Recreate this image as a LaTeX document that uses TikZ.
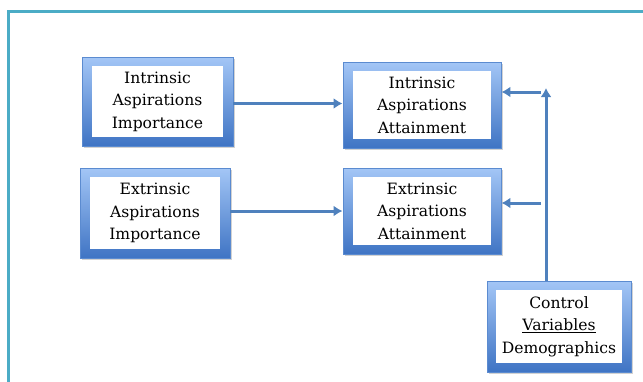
\documentclass[tikz,border=0pt]{standalone}
\usepackage{fontspec}
\setmainfont{DejaVu Serif}
\usetikzlibrary{shadows,arrows.meta}
\definecolor{frame}{HTML}{4BACC6}
\definecolor{btop}{HTML}{A3C6F6}
\definecolor{bbot}{HTML}{3F74C4}
\definecolor{bline}{HTML}{5B8BD0}
\definecolor{arr}{HTML}{4F81BD}
\tikzset{
  outerbox/.style={draw=bline, line width=0.8pt, top color=btop, bottom color=bbot, drop shadow={shadow xshift=2pt, shadow yshift=-2pt, opacity=0.35}},
  innerbox/.style={fill=white, draw=none, align=center, font=\fontsize{15.6}{22.5}\selectfont, inner sep=0pt},
  conn/.style={draw=arr, line width=3pt, -{Latex[length=9pt,width=11pt]}},
}
\begin{document}
\begin{tikzpicture}[x=1pt,y=-1pt]
\useasboundingbox (0,0) rectangle (643,381);
\fill[white] (0,0) rectangle (643,381);
\draw[frame, line width=3pt] (8.5,390) -- (8.5,11.5) -- (660,11.5);
% boxes
\node[outerbox, minimum width=151pt, minimum height=89pt] (b1) at (157.5,101.5) {};
\node[innerbox, minimum width=131pt, minimum height=71pt] (t1) at (b1.center) {Intrinsic\\Aspirations\\Importance};
\node[outerbox, minimum width=158pt, minimum height=86pt] (b2) at (422,105) {};
\node[innerbox, minimum width=138pt, minimum height=68pt] (t2) at (b2.center) {Intrinsic\\Aspirations\\Attainment};
\node[outerbox, minimum width=150pt, minimum height=90pt] (b3) at (155,213) {};
\node[innerbox, minimum width=130pt, minimum height=72pt] (t3) at (b3.center) {Extrinsic\\Aspirations\\Importance};
\node[outerbox, minimum width=158pt, minimum height=86pt] (b4) at (422,211) {};
\node[innerbox, minimum width=138pt, minimum height=68pt] (t4) at (b4.center) {Extrinsic\\Aspirations\\Attainment};
\node[outerbox, minimum width=144pt, minimum height=91pt] (b5) at (559,326.5) {};
\node[innerbox, minimum width=126pt, minimum height=73pt] (t5) at (b5.center) {Control\\\underline{Variables}\\Demographics};
% connectors
\draw[conn] (b1.east |- 0,103.5) -- (b2.west |- 0,103.5);
\draw[conn] (b3.east |- 0,211) -- (b4.west |- 0,211);
\coordinate (vt) at (546,88);
\draw[conn] (b5.north -| vt) -- (vt);
\coordinate (h1) at (541,92);
\coordinate (h2) at (541,203);
\draw[conn] (h1) -- (b2.east |- h1);
\draw[conn] (h2) -- (b4.east |- h2);
\end{tikzpicture}
\end{document}
